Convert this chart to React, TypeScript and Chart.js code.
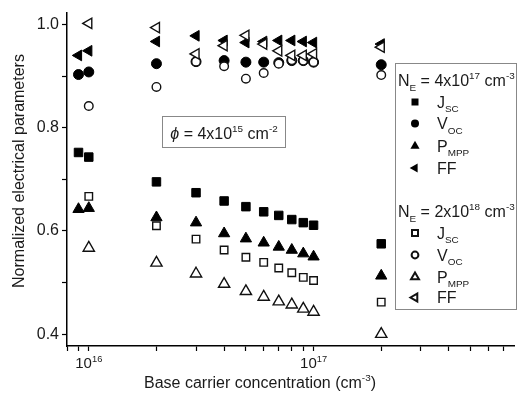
import React, { useEffect, useRef } from 'react';
import { Chart, registerables } from 'chart.js';

Chart.register(...registerables);

// ---- data ----
const concSolid = [9e15, 1e16, 2e16, 3e16, 4e16, 5e16, 6e16, 7e16, 8e16, 9e16, 1e17, 2e17];
const concOpen = [1e16, 2e16, 3e16, 4e16, 5e16, 6e16, 7e16, 8e16, 9e16, 1e17, 2e17];

// N_E = 4x10^17 cm^-3 (filled)
const jscHigh = [0.752, 0.743, 0.695, 0.674, 0.658, 0.647, 0.637, 0.630, 0.622, 0.616, 0.611, 0.575];
const vocHigh = [0.903, 0.908, 0.924, 0.928, 0.930, 0.927, 0.927, 0.926, 0.930, 0.930, 0.927, 0.922];
const pmppHigh = [0.642, 0.644, 0.626, 0.616, 0.595, 0.585, 0.577, 0.569, 0.563, 0.556, 0.550, 0.513];
const ffHigh = [0.940, 0.949, 0.967, 0.978, 0.969, 0.965, 0.967, 0.969, 0.969, 0.967, 0.965, 0.962];

// N_E = 2x10^18 cm^-3 (open)
const jscLow = [0.667, 0.610, 0.584, 0.563, 0.549, 0.539, 0.528, 0.519, 0.510, 0.504, 0.462];
const vocLow = [0.842, 0.879, 0.928, 0.919, 0.895, 0.906, 0.924, 0.931, 0.930, 0.927, 0.902];
const pmppLow = [0.567, 0.538, 0.517, 0.497, 0.483, 0.472, 0.463, 0.457, 0.449, 0.443, 0.400];
const ffLow = [1.002, 0.994, 0.943, 0.959, 0.979, 0.962, 0.949, 0.940, 0.940, 0.943, 0.956];

const xTickValues = [8e15, 9e15, 1e16, 2e16, 3e16, 4e16, 5e16, 6e16, 7e16, 8e16, 9e16, 1e17, 2e17, 3e17, 4e17, 5e17, 6e17, 7e17];
const xLabelDecades = [16, 17];
const yTickValues = [0.4, 0.5, 0.6, 0.7, 0.8, 0.9, 1.0];

const FONT = '"Liberation Sans", Arial, Helvetica, sans-serif';
const TXT = '#1a1a1a';

type Seg = { t: string; k?: 'sup' | 'sub'; i?: boolean };

function segFont(s: Seg, size: number) {
  const sz = s.k ? size * 0.62 : size;
  return `${s.i ? 'italic ' : ''}${sz}px ${FONT}`;
}

function drawRich(ctx: CanvasRenderingContext2D, segs: Seg[], x: number, y: number, size: number, align: 'left' | 'center' | 'right') {
  ctx.save();
  ctx.textAlign = 'left';
  ctx.textBaseline = 'alphabetic';
  let w = 0;
  const widths = segs.map((s) => {
    ctx.font = segFont(s, size);
    const m = ctx.measureText(s.t).width;
    w += m;
    return m;
  });
  let cx = align === 'center' ? x - w / 2 : align === 'right' ? x - w : x;
  segs.forEach((s, i) => {
    ctx.font = segFont(s, size);
    const dy = s.k === 'sup' ? -size * 0.42 : s.k === 'sub' ? size * 0.3 : 0;
    ctx.fillText(s.t, cx, y + dy);
    cx += widths[i];
  });
  ctx.restore();
}

function drawMarker(ctx: CanvasRenderingContext2D, kind: string, x: number, y: number, r: number, open: boolean) {
  ctx.save();
  ctx.beginPath();
  if (kind === 'rect') {
    ctx.rect(x - r, y - r, 2 * r, 2 * r);
  } else if (kind === 'circle') {
    ctx.arc(x, y, r, 0, Math.PI * 2);
  } else if (kind === 'tri') {
    ctx.moveTo(x, y - r);
    ctx.lineTo(x + r * 0.866, y + r * 0.5);
    ctx.lineTo(x - r * 0.866, y + r * 0.5);
    ctx.closePath();
  } else if (kind === 'left') {
    ctx.moveTo(x - r, y);
    ctx.lineTo(x + r * 0.5, y - r * 0.866);
    ctx.lineTo(x + r * 0.5, y + r * 0.866);
    ctx.closePath();
  }
  if (open) {
    ctx.fillStyle = '#fff';
    ctx.fill();
    ctx.lineWidth = 2;
    ctx.strokeStyle = '#111';
    ctx.stroke();
  } else {
    ctx.fillStyle = '#000';
    ctx.fill();
  }
  ctx.restore();
}

const overlayPlugin = {
  id: 'overlay',
  afterDraw(chart: any) {
    const ctx: CanvasRenderingContext2D = chart.ctx;
    const xs = chart.scales.x;
    ctx.save();
    ctx.fillStyle = TXT;

    // x tick labels 10^n
    xLabelDecades.forEach((e) => {
      const px = xs.getPixelForValue(Math.pow(10, e));
      drawRich(ctx, [{ t: '10' }, { t: String(e), k: 'sup' }], px, 368, 15, 'center');
    });

    // axis titles
    drawRich(ctx, [{ t: 'Base carrier concentration (cm' }, { t: '-3', k: 'sup' }, { t: ')' }], 260, 388, 16, 'center');
    ctx.save();
    ctx.translate(24, 171);
    ctx.rotate(-Math.PI / 2);
    drawRich(ctx, [{ t: 'Normalized electrical parameters' }], 0, 0, 16, 'center');
    ctx.restore();

    // annotation box
    ctx.strokeStyle = '#888';
    ctx.lineWidth = 1;
    ctx.strokeRect(162.5, 116.5, 123, 31);
    drawRich(ctx, [{ t: 'ϕ', i: true }, { t: ' = 4x10' }, { t: '15', k: 'sup' }, { t: ' cm' }, { t: '-2', k: 'sup' }], 224, 139, 16, 'center');

    // legend box
    ctx.fillStyle = '#fff';
    ctx.fillRect(395.5, 63.5, 121, 246);
    ctx.strokeStyle = '#888';
    ctx.strokeRect(395.5, 63.5, 121, 246);
    ctx.fillStyle = TXT;
    drawRich(ctx, [{ t: 'N' }, { t: 'E', k: 'sub' }, { t: ' = 4x10' }, { t: '17', k: 'sup' }, { t: ' cm' }, { t: '-3', k: 'sup' }], 398, 86, 16, 'left');
    drawRich(ctx, [{ t: 'N' }, { t: 'E', k: 'sub' }, { t: ' = 2x10' }, { t: '18', k: 'sup' }, { t: ' cm' }, { t: '-3', k: 'sup' }], 398, 217, 16, 'left');

    const labels: Seg[][] = [
      [{ t: 'J' }, { t: 'SC', k: 'sub' }],
      [{ t: 'V' }, { t: 'OC', k: 'sub' }],
      [{ t: 'P' }, { t: 'MPP', k: 'sub' }],
      [{ t: 'FF' }],
    ];
    const kinds = ['rect', 'circle', 'tri', 'left'];
    const rows1 = [102, 123.5, 146, 168];
    const rows2 = [233, 255, 277, 297.5];
    const sizes = [3.5, 4, 5.3, 5.3];
    const sizesOpen = [3, 3.4, 4.6, 4.6];
    rows1.forEach((ry, i) => {
      drawMarker(ctx, kinds[i], 415, ry, sizes[i], false);
      ctx.fillStyle = TXT;
      drawRich(ctx, labels[i], 437, ry + 5.5, 16, 'left');
    });
    rows2.forEach((ry, i) => {
      drawMarker(ctx, kinds[i], 415, ry, sizesOpen[i], true);
      ctx.fillStyle = TXT;
      drawRich(ctx, labels[i], 437, ry + 5.5, 16, 'left');
    });
    ctx.restore();
  },
};

function pts(xs: number[], ys: number[]) {
  return ys.map((y, i) => ({ x: xs[i], y }));
}

export default function App() {
  const ref = useRef<HTMLCanvasElement>(null);

  useEffect(() => {
    if (!ref.current) return;
    const open = { backgroundColor: '#fff', borderColor: '#111', borderWidth: 1.4 };
    const solid = { backgroundColor: '#000', borderColor: '#000', borderWidth: 1 };
    const chart = new Chart(ref.current, {
      type: 'scatter',
      data: {
        datasets: [
          { label: 'FF 2e18', data: pts(concOpen, ffLow), pointStyle: 'triangle', pointRotation: -90, pointRadius: 6, ...open },
          { label: 'Pmpp 2e18', data: pts(concOpen, pmppLow), pointStyle: 'triangle', pointRadius: 6.5, ...open },
          { label: 'Voc 2e18', data: pts(concOpen, vocLow), pointStyle: 'circle', pointRadius: 4.3, ...open },
          { label: 'Jsc 2e18', data: pts(concOpen, jscLow), pointStyle: 'rect', pointRadius: 5.3, ...open },
          { label: 'FF 4e17', data: pts(concSolid, ffHigh), pointStyle: 'triangle', pointRotation: -90, pointRadius: 6.2, ...solid },
          { label: 'Pmpp 4e17', data: pts(concSolid, pmppHigh), pointStyle: 'triangle', pointRadius: 6.5, ...solid },
          { label: 'Voc 4e17', data: pts(concSolid, vocHigh), pointStyle: 'circle', pointRadius: 5, ...solid },
          { label: 'Jsc 4e17', data: pts(concSolid, jscHigh), pointStyle: 'rect', pointRadius: 6, ...solid },
        ] as any,
      },
      options: {
        responsive: false,
        animation: false,
        events: [],
        layout: { padding: { top: 10, right: 1, left: 0, bottom: 0 } },
        plugins: { legend: { display: false }, tooltip: { enabled: false } },
        scales: {
          x: {
            type: 'logarithmic',
            min: 8e15,
            max: 7.8e17,
            afterBuildTicks: (s: any) => {
              s.ticks = xTickValues.map((v) => ({ value: v }));
            },
            afterFit: (s: any) => {
              s.height = 48;
            },
            ticks: { autoSkip: false, callback: () => '', maxRotation: 0 },
            grid: { drawOnChartArea: false, drawTicks: true, tickLength: 5, tickColor: '#000', tickWidth: 1.2 },
            border: { display: true, color: '#000', width: 1.5 },
          },
          y: {
            type: 'linear',
            min: 0.377,
            max: 1.023,
            afterBuildTicks: (s: any) => {
              s.ticks = yTickValues.map((v) => ({ value: v }));
            },
            afterFit: (s: any) => {
              s.width = 67;
            },
            ticks: {
              autoSkip: false,
              padding: 3,
              color: TXT,
              font: { family: FONT, size: 16 },
              callback: (v: any) => (Math.round(Number(v) * 10) % 2 === 0 ? Number(v).toFixed(1) : ''),
            },
            grid: { drawOnChartArea: false, drawTicks: true, tickLength: 5, tickColor: '#000', tickWidth: 1.2 },
            border: { display: true, color: '#000', width: 1.5 },
          },
        },
      } as any,
      plugins: [overlayPlugin],
    });
    return () => chart.destroy();
  }, []);

  return (
    <div style={{ position: 'absolute', left: 0, top: 0, width: 522, height: 394, background: '#fff' }}>
      <canvas ref={ref} width={522} height={394} style={{ display: 'block' }} />
    </div>
  );
}
